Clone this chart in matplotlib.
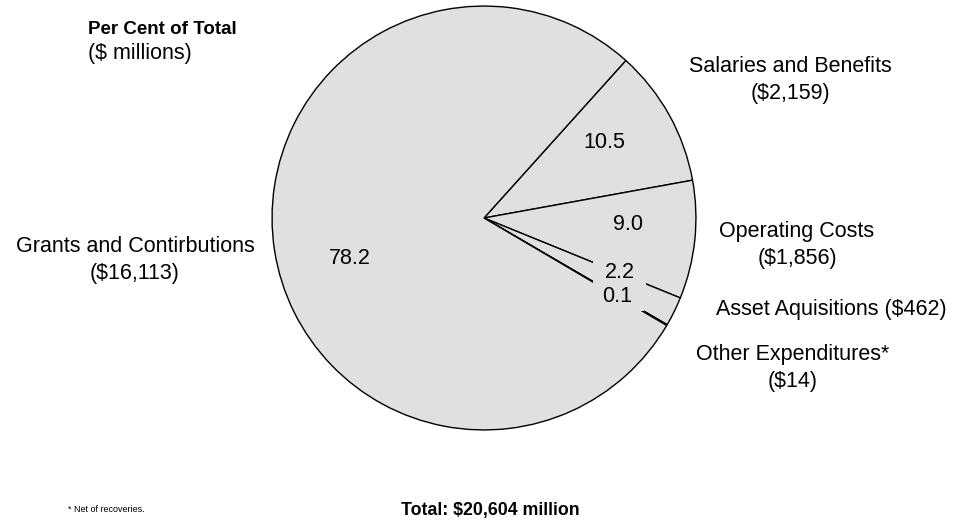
import numpy as np
import matplotlib
matplotlib.use("Agg")
import matplotlib.pyplot as plt

plt.rcParams["font.family"] = ["Liberation Sans", "DejaVu Sans"]

categories = ["Salaries and Benefits", "Operating Costs", "Asset Aquisitions",
              "Other Expenditures*", "Grants and Contirbutions"]
amounts = [2159, 1856, 462, 14, 16113]  # $ millions
pct_labels = ["10.5", "9.0", "2.2", "0.1", "78.2"]
outer_labels = ["Salaries and Benefits\n($2,159)", "Operating Costs\n($1,856)",
                "Asset Aquisitions ($462)", "Other Expenditures*\n($14)",
                "Grants and Contirbutions\n($16,113)"]

fill = "#e0e0e0"
fs = 15.5

fig = plt.figure(figsize=(9.64, 5.2), dpi=100)
ax = fig.add_axes([271 / 964, 89 / 520, 426 / 964, 426 / 520])

wedges, _ = ax.pie(amounts, startangle=48, counterclock=False, radius=1,
                   colors=[fill] * len(amounts),
                   wedgeprops=dict(edgecolor="black", linewidth=1.0))
ax.set_xlim(-1.005, 1.005)
ax.set_ylim(-1.005, 1.005)
ax.set_aspect("equal")

# percentage labels: (radius, angle tweak in degrees)
pct_pos = [(0.67, 3), (0.68, 3.2), (0.69, 4.2), (0.73, -0.2), (0.66, 8)]
for w, lab, (r, da) in zip(wedges, pct_labels, pct_pos):
    mid = np.deg2rad((w.theta1 + w.theta2) / 2 + da)
    kw = {}
    if lab in ("2.2", "0.1"):
        # label boxes break the wedge edges like in the original
        kw["bbox"] = dict(boxstyle="square,pad=0.55", mutation_aspect=0.3,
                          fc=fill, ec="none")
        kw["zorder"] = 5 if lab == "2.2" else 4
    ax.text(r * np.cos(mid), r * np.sin(mid), lab, ha="center", va="center",
            fontsize=fs, **kw)

# outer labels in figure pixel coordinates
outer_pos = [(790, 80), (797, 245), (831, 309), (793, 368), (135, 260)]
for lab, (x, y) in zip(outer_labels, outer_pos):
    fig.text(x / 964, 1 - y / 520, lab, ha="center", va="center",
             fontsize=fs, linespacing=1.36)

fig.text(88 / 964, 1 - 30 / 520, "Per Cent of Total", ha="left", va="center",
         fontsize=13.5, fontweight="bold")
fig.text(88 / 964, 1 - 54 / 520, "($ millions)", ha="left", va="center",
         fontsize=fs)
fig.text(68 / 964, 1 - 510 / 520, "* Net of recoveries.", ha="left",
         va="center", fontsize=6.5)
fig.text(401 / 964, 1 - 510 / 520, "Total: $20,604 million", ha="left",
         va="center", fontsize=12.8, fontweight="bold")

fig.savefig("out.png", dpi=100)
